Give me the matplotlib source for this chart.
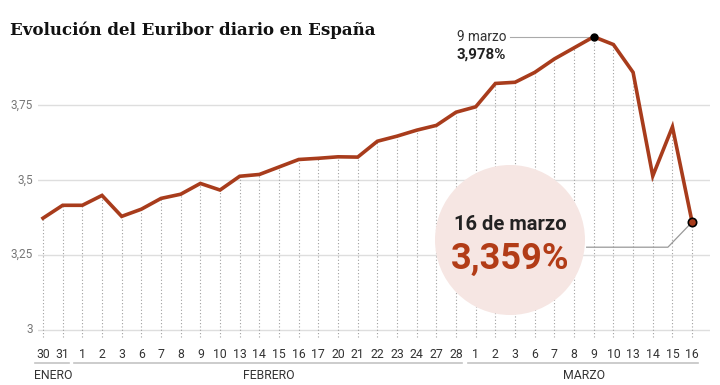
import matplotlib
matplotlib.use("Agg")
import matplotlib.pyplot as plt
import matplotlib.transforms as mtransforms
from matplotlib.patches import Circle

plt.rcParams['font.family'] = ['Roboto', 'DejaVu Sans']

# Euribor diario (30 enero - 16 marzo)
days = ["30", "31",
        "1", "2", "3", "6", "7", "8", "9", "10", "13", "14", "15", "16", "17",
        "20", "21", "22", "23", "24", "27", "28",
        "1", "2", "3", "6", "7", "8", "9", "10", "13", "14", "15", "16"]
euribor = [3.372, 3.415, 3.415, 3.448, 3.378, 3.402, 3.438, 3.452, 3.488, 3.466,
           3.512, 3.518, 3.543, 3.568, 3.572, 3.577, 3.576, 3.629, 3.646, 3.666,
           3.682, 3.726, 3.744, 3.822, 3.826, 3.859, 3.904, 3.941, 3.978, 3.952,
           3.859, 3.513, 3.677, 3.359]
months = ["ENERO", "FEBRERO", "MARZO"]
month_spans = [(0, 1), (2, 21), (22, 33)]
yticks = [3, 3.25, 3.5, 3.75]
ytick_labels = ["3", "3,25", "3,5", "3,75"]

LINE = "#a83c1c"
GRID = "#dedede"

fig = plt.figure(figsize=(7.2, 3.85), dpi=100)
ax = fig.add_axes([38 / 720, 45 / 385, 672 / 720, 320 / 385])
x = list(range(len(days)))
ax.set_xlim(-0.254, 33.91)
ax.set_ylim(2.965, 4.034)
for s in ax.spines.values():
    s.set_visible(False)
ax.set_xticks([])
ax.set_yticks([])

# horizontal grid
for yv, lab in zip(yticks, ytick_labels):
    ax.axhline(yv, color=GRID, lw=1, zorder=1)
    ax.text(-0.5, yv, lab, ha="right", va="center", fontsize=8.5,
            color="#777777", clip_on=False)

# dotted verticals
ax.vlines(x, 2.975, euribor, colors="#a0a0a0", linestyles=(0, (1, 2)),
          lw=0.8, zorder=1)

# pink bubble
circle = Circle((5.10, 1.45), 0.75, transform=fig.dpi_scale_trans,
                facecolor="#f6e6e3", edgecolor="none", zorder=2)
ax.add_patch(circle)

ax.plot(x, euribor, color=LINE, lw=2.6, zorder=4, solid_joinstyle="miter")

# x labels and months
trans = mtransforms.blended_transform_factory(ax.transData, ax.transAxes)
for xi, d in zip(x, days):
    ax.text(xi, -0.045, d, ha="center", va="center", fontsize=8.8,
            color="#333333", transform=trans)
for m, (a, b) in zip(months, month_spans):
    ax.plot([a - 0.4, b + 0.3], [-0.071, -0.071], color="#c4c4c4", lw=1.2,
            transform=trans, clip_on=False)
    ax.text((a + b) / 2, -0.112, m, ha="center", va="center", fontsize=8.8,
            color="#333333", transform=trans)

# max annotation (9 marzo)
imax = 28
ax.plot([23.75, imax], [euribor[imax]] * 2, color="#aaaaaa", lw=0.8, zorder=3)
ax.plot(imax, euribor[imax], "o", color="black", ms=5, zorder=5)
ax.text(23.55, euribor[imax], "9 marzo", ha="right", va="center",
        fontsize=9.8, color="#333333")
ax.text(23.55, euribor[imax] - 0.06, "3,978%", ha="right", va="center",
        fontsize=10.8, fontweight="bold", color="#222222")

# last value annotation (16 marzo)
ilast = 33
ax.plot([27.64, 31.77, ilast], [3.275, 3.275, euribor[ilast]],
        color="#999999", lw=0.9, zorder=3)
ax.plot(ilast, euribor[ilast], "o", color=LINE, mec="black", mew=1.2,
        ms=6, zorder=5)
fig.text(510 / 720, 1 - 225 / 385, "16 de marzo", ha="center", va="center",
         fontsize=14.5, color="#222222", fontweight="bold")
fig.text(510 / 720, 1 - 259 / 385, "3,359%", ha="center", va="center",
         fontsize=26, color="#b23c17", fontweight="bold")

fig.text(10 / 720, 1 - 30 / 385, "Evolución del Euribor diario en España",
         ha="left", va="center", fontsize=12, fontweight="bold",
         family="DejaVu Serif", color="#111111")

fig.savefig("out.png", dpi=100)
